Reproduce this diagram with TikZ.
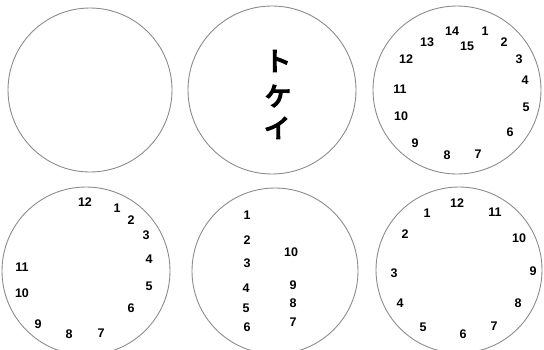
\documentclass[tikz,border=0pt]{standalone}
\usepackage{fontspec}
\setmainfont{Liberation Sans}
\newfontfamily\jpfont{Noto Sans CJK JP}
\usepackage{tikz}

% heavier strokes for the katakana
\newcommand{\heavykana}[1]{\special{pdf:literal direct 2 Tr 1.6 w}#1\special{pdf:literal direct 0 Tr}}

\tikzset{
  dial/.style={circle, draw=black!45, line width=0.9pt, inner sep=0pt},
  num/.style={font=\fontsize{12.5}{12.5}\selectfont\bfseries, inner sep=0pt},
  kana/.style={font=\fontsize{26}{26}\selectfont\jpfont, inner sep=0pt}
}

\begin{document}
\begin{tikzpicture}[x=1pt, y=-1pt]
    \useasboundingbox (0,0) rectangle (544,349);
    % Dials
    \node (dialA) [dial, minimum size=164pt] at (90,90) {};
    \node (dialB) [dial, minimum size=168pt] at (272,90) {};
    \node (dialC) [dial, minimum size=168pt] at (457,90) {};
    \node (dialD) [dial, minimum size=168pt] at (86,271) {};
    \node (dialE) [dial, minimum size=166pt] at (275,271) {};
    \node (dialF) [dial, minimum size=166pt] at (459,270) {};

    % Katakana
    \node (to) [kana] at (278,61) {\heavykana{ト}};
    \node (ke) [kana] at (278,96) {\heavykana{ケ}};
    \node (i) [kana] at (277,128) {\heavykana{イ}};

    % Numbers, dial C
    \foreach \n/\x/\y in {1/485/31, 2/504/42, 3/519/59, 4/525/80, 5/526/107,
        6/510/132, 7/478/154, 8/447/155, 9/415/143, 10/401/116, 11/400/89,
        12/406/59, 13/427/42, 14/452/31, 15/467/46}
      \node (c\n) [num] at (\x,\y) {\n};

    % Numbers, dial D
    \foreach \n/\x/\y in {1/117/208, 2/131/220, 3/146/235, 4/149/259,
        5/149/286, 6/131/308, 7/101/333, 8/69/334, 9/38/324, 10/22/293,
        11/22/267, 12/85/202}
      \node (d\n) [num] at (\x,\y) {\n};

    % Numbers, dial E
    \foreach \n/\x/\y in {1/247/215, 2/247/240, 3/247/263, 4/246/288,
        5/246/308, 6/247/327, 7/293/322, 8/293/303, 9/293/285, 10/291/252}
      \node (e\n) [num] at (\x,\y) {\n};

    % Numbers, dial F
    \foreach \n/\x/\y in {1/427/213, 2/405/234, 3/394/273, 4/400/303,
        5/423/327, 6/463/334, 7/494/326, 8/518/303, 9/533/271, 10/519/238,
        11/495/212, 12/457/203}
      \node (f\n) [num] at (\x,\y) {\n};
\end{tikzpicture}
\end{document}
